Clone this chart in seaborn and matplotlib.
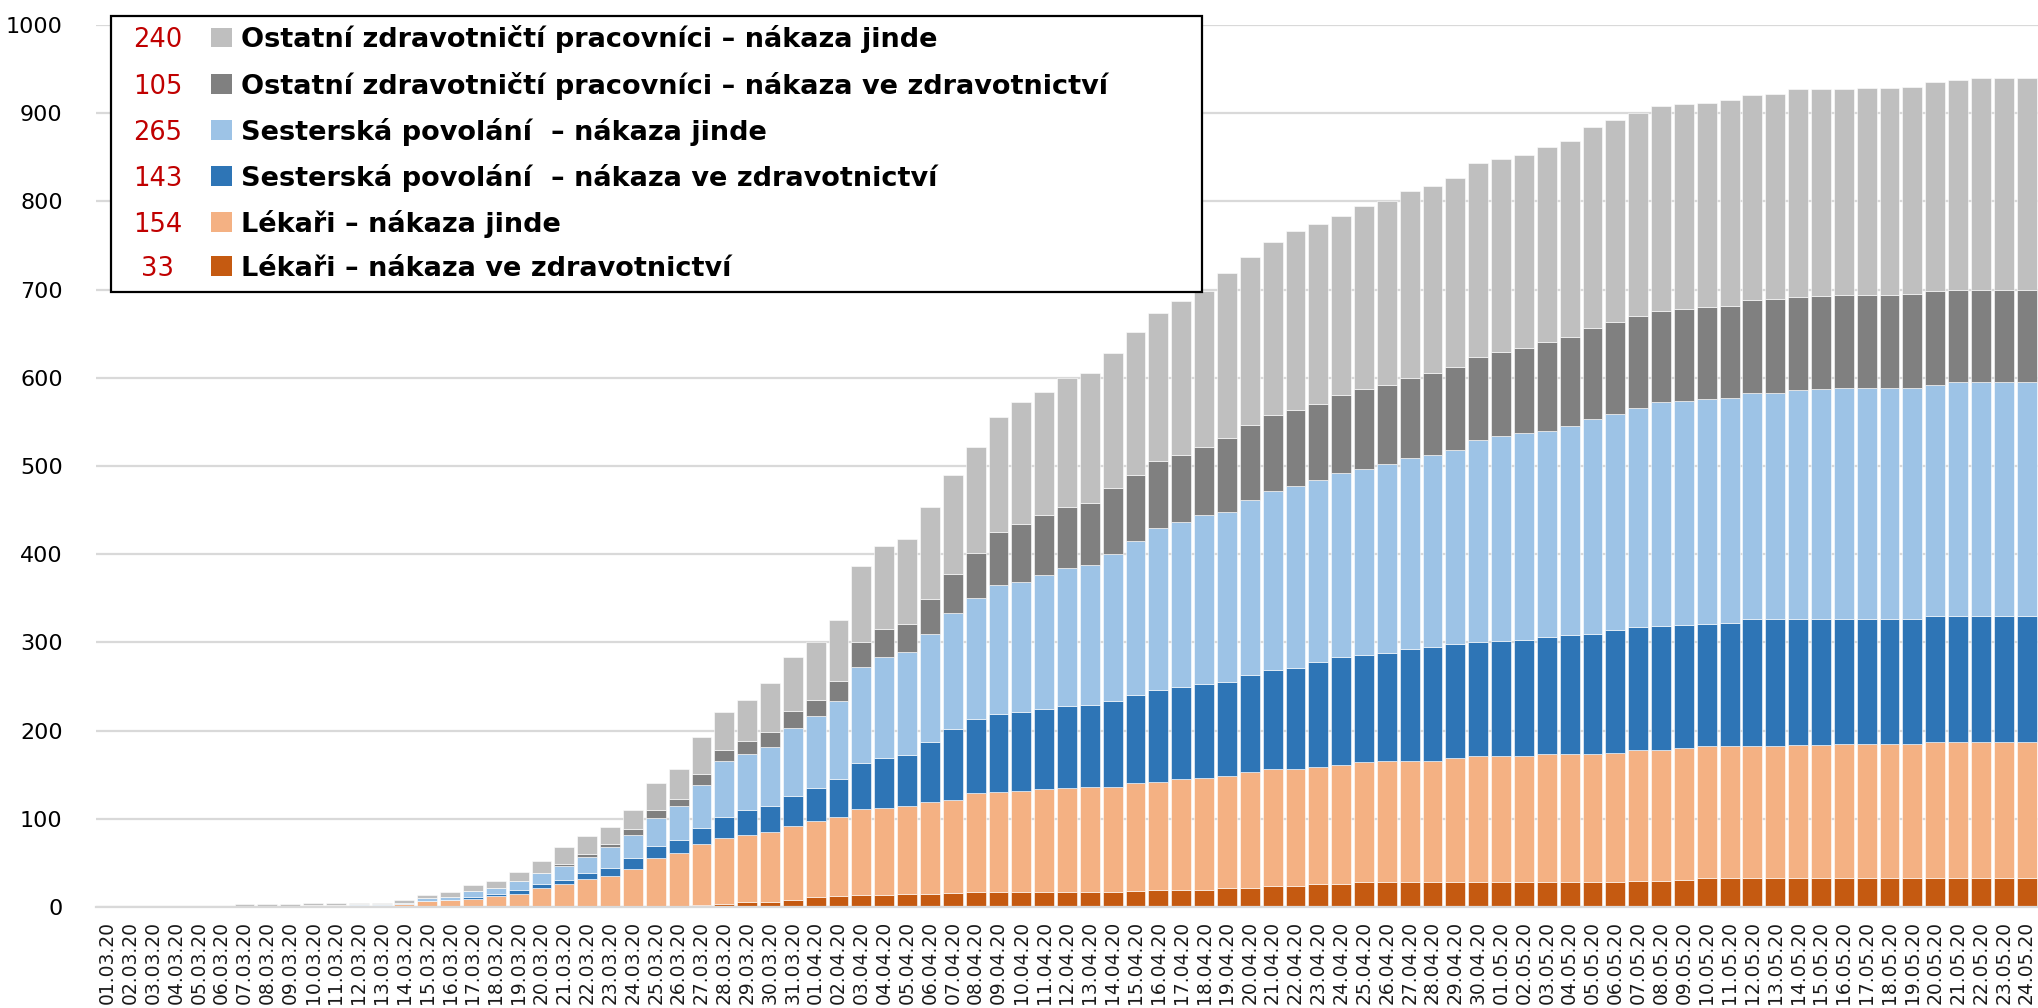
import pandas as pd
import seaborn as sns
import matplotlib
matplotlib.use('Agg')
import matplotlib.pyplot as plt
from matplotlib.patches import Rectangle
from matplotlib.text import Text
from matplotlib.legend_handler import HandlerBase

# daily cumulative counts per group (01.03.20 - 24.05.20)
dates = pd.date_range('2020-03-01', '2020-05-24').strftime('%d.%m.%y').tolist()

lekari_zdrav = [0, 0, 0, 0, 0, 0, 0, 0, 0, 0, 0, 0, 0, 0, 0, 0, 0, 0, 0, 0,
                0, 0, 0, 0, 1, 1, 2, 3, 6, 6, 8, 11, 12, 14, 14, 15, 15, 16, 17, 17,
                17, 17, 17, 17, 17, 18, 19, 19, 19, 21, 21, 24, 24, 26, 26, 28, 28, 28, 28, 28,
                28, 28, 28, 28, 28, 28, 28, 30, 30, 31, 33, 33, 33, 33, 33, 33, 33, 33, 33, 33,
                33, 33, 33, 33, 33]
lekari_jinde = [0, 0, 0, 0, 0, 0, 0, 0, 0, 2, 2, 2, 2, 3, 7, 8, 9, 12, 15, 21,
                26, 32, 35, 43, 55, 60, 69, 75, 76, 79, 84, 87, 90, 97, 98, 99, 104, 105, 112, 113,
                114, 117, 118, 119, 119, 123, 123, 126, 127, 127, 132, 132, 133, 133, 135, 136, 137, 138, 138, 141,
                143, 143, 143, 145, 145, 146, 147, 148, 148, 149, 149, 149, 150, 150, 151, 151, 152, 152, 152, 152,
                154, 154, 154, 154, 154]
sestry_zdrav = [0, 0, 0, 0, 0, 0, 0, 0, 0, 0, 0, 0, 0, 0, 0, 0, 2, 3, 4, 5,
                5, 7, 9, 12, 13, 15, 19, 24, 28, 30, 34, 37, 43, 52, 57, 58, 68, 81, 84, 89,
                90, 91, 93, 93, 98, 99, 104, 104, 107, 107, 110, 113, 114, 119, 122, 122, 123, 126, 129, 129,
                130, 131, 132, 133, 135, 136, 139, 140, 141, 140, 139, 140, 143, 143, 142, 142, 142, 142, 142, 142,
                143, 143, 143, 143, 143]
sestry_jinde = [0, 0, 0, 0, 0, 0, 0, 0, 0, 0, 0, 1, 1, 2, 3, 3, 7, 7, 10, 12,
                15, 18, 24, 27, 32, 38, 48, 63, 63, 66, 77, 81, 88, 109, 114, 117, 123, 131, 137, 146,
                148, 151, 156, 159, 166, 175, 184, 187, 192, 193, 198, 203, 206, 206, 209, 211, 214, 217, 217, 220,
                228, 232, 234, 234, 237, 243, 245, 248, 253, 254, 255, 255, 257, 257, 260, 261, 261, 261, 261, 262,
                262, 265, 265, 265, 265]
ostatni_zdrav = [0, 0, 0, 0, 0, 0, 0, 0, 0, 0, 0, 0, 0, 0, 0, 0, 0, 0, 0, 0,
                 3, 3, 3, 6, 9, 9, 13, 13, 15, 17, 19, 19, 23, 28, 32, 32, 39, 45, 51, 60,
                 65, 68, 70, 70, 75, 75, 76, 76, 76, 84, 85, 86, 86, 86, 88, 90, 90, 91, 93, 94,
                 95, 95, 97, 101, 101, 103, 104, 104, 104, 104, 104, 104, 105, 106, 106, 106, 106, 106, 106, 106,
                 106, 105, 105, 105, 105]
ostatni_jinde = [0, 0, 0, 0, 0, 1, 3, 3, 3, 2, 2, 2, 2, 3, 4, 6, 7, 8, 11, 14,
                 19, 20, 20, 22, 31, 33, 42, 43, 47, 56, 61, 66, 69, 87, 94, 96, 104, 112, 120, 130,
                 138, 140, 146, 148, 153, 162, 168, 175, 177, 187, 191, 196, 203, 204, 204, 208, 208, 212, 213, 215,
                 219, 219, 219, 221, 222, 228, 229, 230, 232, 232, 232, 234, 233, 233, 235, 235, 234, 235, 235, 235,
                 237, 238, 240, 240, 240]

labels = ['Ostatní zdravotničtí pracovníci – nákaza jinde',
          'Ostatní zdravotničtí pracovníci – nákaza ve zdravotnictví',
          'Sesterská povolání  – nákaza jinde',
          'Sesterská povolání  – nákaza ve zdravotnictví',
          'Lékaři – nákaza jinde',
          'Lékaři – nákaza ve zdravotnictví']
totals = ['240', '105', '265', '143', '154', '33']
colors = ['#BFBFBF', '#808080', '#9DC3E6', '#2E75B6', '#F4B183', '#C55A11']

series = [ostatni_jinde, ostatni_zdrav, sestry_jinde, sestry_zdrav, lekari_jinde, lekari_zdrav]

rows = []
for lab, vals in zip(labels, series):
    for i, v in enumerate(vals):
        rows.append({'day': i, 'group': lab, 'count': v})
df = pd.DataFrame(rows)

sns.set_theme(style='white')
plt.rcParams['font.family'] = ['DejaVu Sans']

fig = plt.figure(figsize=(20.38, 10.08), dpi=100)
ax = fig.add_axes([96 / 2038, 101 / 1008, 1942 / 2038, 882 / 1008])

# seaborn stacks hue levels in reverse order, so the last one sits at the bottom
sns.histplot(data=df, x='day', weights='count', hue='group', hue_order=labels,
             multiple='stack', discrete=True, shrink=0.87,
             palette=dict(zip(labels, colors)), alpha=1,
             edgecolor='white', linewidth=0.4, legend=False, ax=ax)

ax.set_xlim(-0.5, len(dates) - 0.5)
ax.set_ylim(0, 1000)
ax.set_yticks(range(0, 1001, 100))
ax.set_xticks(range(len(dates)))
ax.set_xticklabels(dates, rotation=90)
ax.set_xlabel('')
ax.set_ylabel('')
ax.tick_params(axis='y', labelsize=16, pad=24, length=0, labelcolor='#000000')
ax.tick_params(axis='x', labelsize=13.5, pad=10, length=0, labelcolor='#1a1a1a')
ax.grid(axis='y', color='#D9D9D9', linewidth=1.6)
ax.set_axisbelow(True)
for side in ['top', 'right', 'left']:
    ax.spines[side].set_visible(False)
ax.spines['bottom'].set_color('#D9D9D9')
ax.spines['bottom'].set_linewidth(1.6)


class NumberPatchHandler(HandlerBase):
    # red total on the left, coloured square next to the label
    def __init__(self, number, color):
        super().__init__()
        self.number = number
        self.color = color

    def create_artists(self, legend, orig_handle, xdescent, ydescent,
                       width, height, fontsize, trans):
        num = Text(-xdescent + 0.335 * width, -ydescent, self.number,
                   color='#C00000', fontsize=0.95 * fontsize, ha='center', va='baseline',
                   fontweight='normal', transform=trans)
        side = 0.186 * width
        sq = Rectangle((-xdescent + width - side, -ydescent), side, 0.73 * fontsize,
                       facecolor=self.color, edgecolor='none', transform=trans)
        return [num, sq]


handles = [Rectangle((0, 0), 1, 1, facecolor=c) for c in colors]
hmap = {h: NumberPatchHandler(t, c) for h, t, c in zip(handles, totals, colors)}
leg = ax.legend(handles, labels, handler_map=hmap,
                loc='upper left', bbox_to_anchor=(111 / 2038, 1 - 16 / 1008 - 0.01, 1091 / 2038, 0.01),
                bbox_transform=fig.transFigure, mode='expand', borderaxespad=0,
                prop={'family': 'DejaVu Sans', 'weight': 'bold', 'size': 19.5},
                handlelength=4.11, handleheight=0.7, handletextpad=0.35,
                labelspacing=0.67, borderpad=0.35, labelcolor='black',
                frameon=True, fancybox=False, framealpha=1, edgecolor='black')
leg.get_frame().set_linewidth(1.6)

fig.savefig('out.png', dpi=100)
